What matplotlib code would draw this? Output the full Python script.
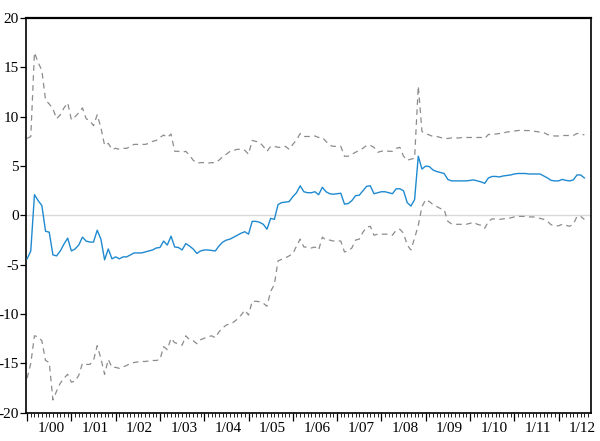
import matplotlib
matplotlib.use("Agg")
import matplotlib.pyplot as plt
import numpy as np

# monthly response, Jan 2000 onwards, with +/- 2 s.e. bands
response = [
    -4.4, -3.6, 2.1, 1.5, 1.0, -1.6, -1.7, -4.0, -4.1, -3.6, -2.9, -2.3,
    -3.6, -3.4, -3.0, -2.2, -2.6, -2.7, -2.7, -1.5, -2.4, -4.5, -3.4, -4.4,
    -4.2, -4.4, -4.2, -4.2, -4.0, -3.8, -3.8, -3.8, -3.7, -3.6, -3.5, -3.3,
    -3.25, -2.6, -3.0, -2.1, -3.2, -3.25, -3.5, -2.85, -3.1, -3.4, -3.85, -3.6,
    -3.5, -3.5, -3.55, -3.6, -3.1, -2.7, -2.5, -2.4, -2.2, -2.0, -1.8, -1.65,
    -1.9, -0.6, -0.6, -0.7, -0.9, -1.4, -0.3, -0.4, 1.1, 1.3, 1.35, 1.4,
    1.9, 2.3, 3.0, 2.4, 2.3, 2.3, 2.4, 2.1, 2.85, 2.4, 2.2, 2.15,
    2.2, 2.25, 1.15, 1.2, 1.5, 2.0, 2.05, 2.5, 2.95, 3.0, 2.2, 2.3,
    2.4, 2.4, 2.3, 2.2, 2.7, 2.7, 2.5, 1.3, 0.95, 1.6, 6.0, 4.7,
    5.0, 4.95, 4.6, 4.45, 4.35, 4.25, 3.65, 3.5, 3.5, 3.5, 3.5, 3.5,
    3.55, 3.6, 3.5, 3.4, 3.25, 3.8, 3.95, 3.95, 3.9, 4.0, 4.05, 4.1,
    4.2, 4.25, 4.25, 4.25, 4.2, 4.2, 4.2, 4.2, 4.0, 3.8, 3.55, 3.5,
    3.5, 3.65, 3.55, 3.5, 3.6, 4.1, 4.1, 3.8,
]

upper = [
    7.8, 8.0, 16.5, 15.5, 14.7, 11.7, 11.3, 10.8, 9.8, 10.2, 10.9, 11.4,
    9.7, 10.0, 10.4, 10.9, 9.8, 9.6, 9.1, 10.2, 8.9, 7.1, 7.3, 6.7,
    6.8, 6.7, 6.8, 6.8, 7.0, 7.2, 7.2, 7.2, 7.2, 7.3, 7.5, 7.6,
    7.9, 8.15, 7.9, 8.25, 6.5, 6.5, 6.4, 6.5, 6.1, 5.6, 5.3, 5.35,
    5.35, 5.3, 5.35, 5.35, 5.6, 5.95, 6.2, 6.5, 6.6, 6.7, 6.7, 6.6,
    6.2, 7.6, 7.5, 7.4, 7.0, 6.5, 7.0, 7.0, 6.9, 6.9, 7.0, 6.7,
    7.2, 7.65, 8.3, 8.0, 8.0, 8.0, 8.05, 7.9, 7.9, 7.5, 7.1, 7.0,
    7.0, 7.0, 6.0, 6.0, 6.2, 6.4, 6.6, 6.8, 7.1, 7.1, 6.9, 6.4,
    6.5, 6.6, 6.5, 6.5, 6.8, 6.9, 6.0, 5.6, 5.7, 5.8, 13.1, 8.5,
    8.3, 8.15, 8.0, 8.0, 7.9, 7.8, 7.8, 7.85, 7.85, 7.85, 7.9, 7.9,
    7.9, 7.9, 7.9, 7.9, 7.8, 8.2, 8.25, 8.25, 8.3, 8.35, 8.45, 8.5,
    8.55, 8.6, 8.65, 8.6, 8.6, 8.55, 8.5, 8.45, 8.4, 8.2, 8.1, 8.05,
    8.05, 8.1, 8.1, 8.1, 8.1, 8.3, 8.3, 8.15,
]

lower = [
    -16.5, -15.0, -12.2, -12.3, -12.7, -14.7, -14.9, -18.7, -17.8, -17.0, -16.5, -16.1,
    -16.9, -16.8, -16.2, -15.0, -15.1, -15.1, -14.7, -13.2, -14.5, -16.1, -14.6, -15.4,
    -15.4, -15.5, -15.35, -15.2, -15.0, -14.9, -14.85, -14.8, -14.8, -14.75, -14.7, -14.7,
    -14.6, -13.3, -13.6, -12.45, -12.9, -13.0, -13.15, -12.2, -12.6, -12.7, -13.0, -12.6,
    -12.45, -12.3, -12.2, -12.4, -11.8, -11.4, -11.1, -11.0, -10.8, -10.5, -10.1, -9.6,
    -10.1, -8.7, -8.7, -8.75, -8.9, -9.2, -7.7, -7.0, -4.6, -4.45, -4.3, -4.1,
    -3.9, -3.1, -2.4, -3.2, -3.2, -3.3, -3.2, -3.5, -2.2, -2.5, -2.5, -2.6,
    -2.55, -2.6, -3.7, -3.6, -3.3, -2.5, -2.4, -1.7, -1.2, -1.1, -2.0, -1.9,
    -1.9, -1.9, -1.9, -2.0, -1.5, -1.4, -1.8, -3.0, -3.5, -2.3, -1.0, 0.9,
    1.6, 1.4, 1.1, 0.9, 0.7, 0.6, -0.6, -0.85, -0.9, -0.9, -0.9, -0.9,
    -0.8, -0.7, -0.9, -1.0, -1.3, -0.6, -0.35, -0.35, -0.4, -0.35, -0.3, -0.25,
    -0.15, -0.1, -0.1, -0.1, -0.15, -0.15, -0.2, -0.3, -0.4, -0.6, -0.95, -1.05,
    -1.05, -0.9, -1.0, -1.1, -0.9, -0.1, -0.1, -0.4,
]

year_labels = ["1/00", "1/01", "1/02", "1/03", "1/04", "1/05", "1/06",
               "1/07", "1/08", "1/09", "1/10", "1/11", "1/12"]
y_ticks = [-20, -15, -10, -5, 0, 5, 10, 15, 20]

plt.rcParams["font.family"] = ["Liberation Serif", "DejaVu Serif"]

fig = plt.figure(figsize=(6.0, 4.41), dpi=100)
ax = fig.add_axes([0.0433, 0.064, 0.9417, 0.895])

months = np.arange(len(response))

ax.axhline(0, color="#d9d9d9", lw=1.0, zorder=1)
ax.plot(months, upper, color="#8c8c8c", lw=0.9, dashes=(4.5, 3.5), zorder=2)
ax.plot(months, lower, color="#8c8c8c", lw=0.9, dashes=(4.5, 3.5), zorder=2)
ax.plot(months, response, color="#1f8ad0", lw=1.0, zorder=3)

ax.set_xlim(-0.3, 152.8)
ax.set_ylim(-20, 20)

for side in ["left", "right", "top", "bottom"]:
    ax.spines[side].set_linewidth(1.2)
    ax.spines[side].set_color("black")
ax.spines["top"].set_linewidth(1.6)

ax.set_yticks(y_ticks)
ax.set_yticklabels([str(v) for v in y_ticks])
ax.tick_params(axis="y", direction="out", length=4, width=0.9, pad=1,
               labelsize=11, right=False)

# year boundaries get long ticks, every month a short one
n_years = len(year_labels)
ax.set_xticks([12 * k for k in range(n_years + 1) if 12 * k <= 152])
ax.set_xticklabels([])
ax.set_xticks(np.arange(0, 153), minor=True)
ax.tick_params(axis="x", which="major", direction="out", length=6, width=0.9)
ax.tick_params(axis="x", which="minor", direction="out", length=3, width=0.6)

# year labels sit in the middle of each year
sec = ax.secondary_xaxis("bottom")
sec.set_xticks([12 * k + 6.5 for k in range(n_years)])
sec.set_xticklabels(year_labels)
sec.tick_params(axis="x", length=0, pad=7, labelsize=11)
sec.spines["bottom"].set_visible(False)

fig.savefig("out.png", dpi=100)
